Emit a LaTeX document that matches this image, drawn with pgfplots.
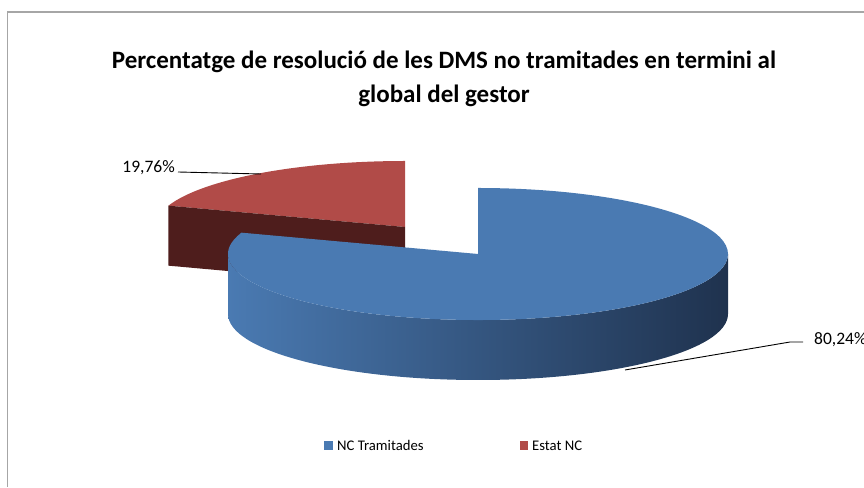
\documentclass[border=0pt]{standalone}
\usepackage{pgfplots}
\pgfplotsset{compat=1.18}
\usepackage{fontspec}
\setmainfont{Carlito}
\definecolor{blueTop}{HTML}{4A7AB2}
\definecolor{blueSideL}{HTML}{4A7AB2}
\definecolor{blueSideM}{HTML}{36598A}
\definecolor{blueSideR}{HTML}{1F324E}
\definecolor{redTop}{HTML}{B14B48}
\definecolor{redSide}{HTML}{4E1D1C}
\definecolor{frameGray}{HTML}{A6A6A6}
\begin{document}
\begin{tikzpicture}
% data (percent)
\def\vA{80.24}% NC Tramitades
\def\vB{19.76}% Estat NC
\pgfmathsetmacro\aCut{90+360*\vB/100}
\pgfmathsetmacro\aEnd{450}
\begin{axis}[scale only axis, width=864pt, height=487pt,
  xmin=0, xmax=864, ymin=0, ymax=487, hide axis, clip=false]
% frame
\draw[frameGray, line width=1.5pt] (axis cs:7.5,0) -- (axis cs:7.5,475) -- (axis cs:870,475);
% title
\node[font=\fontsize{25}{34}\selectfont\bfseries, align=center] at (axis cs:444,408)
  {Percentatge de resolució de les DMS no tramitades en termini al\\global del gestor};
% red (exploded) slice
\fill[redTop] (axis cs:405,260) -- ++(90:250pt and 66pt)
   arc[start angle=90, end angle=\aCut, x radius=250pt, y radius=66pt] -- cycle;
\fill[redSide] (axis cs:405,260) -- ++(\aCut:250pt and 66pt) -- ++(0,-60pt) -- (axis cs:405,200) -- cycle;
% blue slice side
\shade[left color=blueSideL, middle color=blueSideM, right color=blueSideR]
  (axis cs:228,233) arc[start angle=180, end angle=360, x radius=250pt, y radius=66pt]
  -- ++(0,-60pt) arc[start angle=360, end angle=180, x radius=250pt, y radius=66pt] -- cycle;
% blue top
\fill[blueTop] (axis cs:478,233) -- ++(\aCut:250pt and 66pt)
   arc[start angle=\aCut, end angle=\aEnd, x radius=250pt, y radius=66pt] -- cycle;
% data labels
\node[anchor=east, font=\fontsize{17.5}{20}\selectfont, inner sep=0pt] at (axis cs:175,319) {19,76\%};
\draw[black, line width=0.9pt] (axis cs:178,315) -- (axis cs:261,313);
\node[anchor=west, font=\fontsize{17.5}{20}\selectfont, inner sep=0pt] at (axis cs:814,147) {80,24\%};
\draw[black, line width=0.9pt] (axis cs:625,117) -- (axis cs:790,145) -- (axis cs:803,145);
% legend
\fill[blueTop] (axis cs:324,37) rectangle (axis cs:333,46);
\node[anchor=west, font=\fontsize{14.7}{17}\selectfont, inner sep=0pt] at (axis cs:337,41.5) {NC Tramitades};
\fill[redTop] (axis cs:520,37) rectangle (axis cs:528,46);
\node[anchor=west, font=\fontsize{14.7}{17}\selectfont, inner sep=0pt] at (axis cs:532,41.5) {Estat NC};
\end{axis}
\pgfresetboundingbox
\path (0,0) rectangle (864pt,487pt);
\end{tikzpicture}
\end{document}
